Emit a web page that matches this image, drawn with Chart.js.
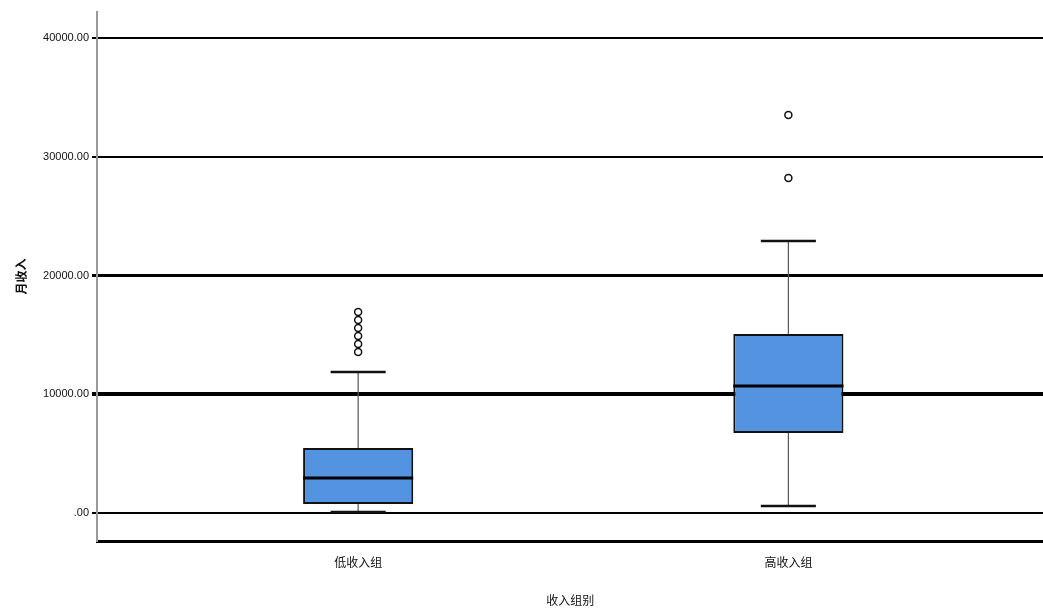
<!DOCTYPE html>
<html>
<head>
<meta charset="utf-8">
<script src="https://cdn.jsdelivr.net/npm/chart.js@4"></script>
<style>
  html, body { margin: 0; padding: 0; background: #fff; overflow: hidden; }
  #wrap { width: 1043px; height: 612px; position: relative; overflow: hidden; }
  canvas { display: block; }
</style>
</head>
<body>
<div id="wrap"><canvas id="c" width="1049" height="612"></canvas></div>
<script>
// ---- data ----
const categories = ['低收入组', '高收入组'];
const categoryPos = [1, 2];
const whiskerMin = [80, 590];
const q1 = [760, 6740];
const median = [2950, 10700];
const q3 = [5470, 15070];
const whiskerMax = [11870, 22900];
const outliersGroup1 = [13560, 14230, 14900, 15580, 16250, 16930];
const outliersGroup2 = [28210, 33520];
const yTicks = [0, 10000, 20000, 30000, 40000];
const xTitle = '收入组别';
const yTitle = '月收入';

const outlierPoints = [];
outliersGroup1.forEach(v => outlierPoints.push({x: categoryPos[0], y: v}));
outliersGroup2.forEach(v => outlierPoints.push({x: categoryPos[1], y: v}));

const gridWidths = {0: 2, 10000: 4, 20000: 3, 30000: 2, 40000: 2};

const boxPlugin = {
  id: 'boxExtras',
  afterDatasetsDraw(chart) {
    const ctx = chart.ctx;
    const xs = chart.scales.x, ys = chart.scales.y;
    const meta = chart.getDatasetMeta(0);
    ctx.save();
    categoryPos.forEach((p, i) => {
      const cx = xs.getPixelForValue(p);
      const bar = meta.data[i];
      const half = bar.width / 2;
      const capHalf = half / 2;
      ctx.strokeStyle = '#555';
      ctx.lineWidth = 1.2;
      ctx.beginPath();
      ctx.moveTo(cx, ys.getPixelForValue(q3[i]));
      ctx.lineTo(cx, ys.getPixelForValue(whiskerMax[i]));
      ctx.moveTo(cx, ys.getPixelForValue(q1[i]));
      ctx.lineTo(cx, ys.getPixelForValue(whiskerMin[i]));
      ctx.stroke();
      ctx.strokeStyle = '#111';
      ctx.lineWidth = 2.5;
      ctx.beginPath();
      const yt = ys.getPixelForValue(whiskerMax[i]);
      const yb = ys.getPixelForValue(whiskerMin[i]);
      ctx.moveTo(cx - capHalf, yt); ctx.lineTo(cx + capHalf, yt);
      ctx.moveTo(cx - capHalf, yb); ctx.lineTo(cx + capHalf, yb);
      ctx.stroke();
      ctx.strokeStyle = '#000';
      ctx.lineWidth = 3;
      const ym = ys.getPixelForValue(median[i]);
      ctx.beginPath();
      ctx.moveTo(cx - half, ym); ctx.lineTo(cx + half, ym);
      ctx.stroke();
    });
    ctx.restore();
  }
};

new Chart(document.getElementById('c'), {
  type: 'bar',
  data: {
    datasets: [
      {
        label: 'box',
        data: categoryPos.map((p, i) => ({x: p, y: [q1[i], q3[i]]})),
        backgroundColor: '#5393e0',
        borderColor: '#111',
        borderWidth: 2,
        borderSkipped: false,
        barPercentage: 0.256,
        categoryPercentage: 1,
        order: 2
      },
      {
        type: 'scatter',
        label: 'outliers',
        data: outlierPoints,
        pointStyle: 'circle',
        pointRadius: 3.5,
        pointBackgroundColor: '#fff',
        pointBorderColor: '#111',
        pointBorderWidth: 1.5,
        order: 1
      }
    ]
  },
  options: {
    responsive: false,
    animation: false,
    events: [],
    layout: { padding: { top: 12, left: 0, right: 0, bottom: 0 } },
    plugins: { legend: { display: false }, tooltip: { enabled: false } },
    scales: {
      x: {
        type: 'linear',
        min: 0.393,
        max: 2.593,
        offset: false,
        afterBuildTicks(scale) { scale.ticks = categoryPos.map(v => ({value: v})); },
        afterFit(scale) { scale.height = 71; scale.paddingLeft = 0; scale.paddingRight = 0; },
        grid: { display: false, drawTicks: false },
        border: { display: true, color: '#000', width: 3 },
        ticks: {
          padding: 14,
          color: '#111',
          font: { family: '"Noto Sans CJK SC", "Liberation Sans", sans-serif', size: 12 },
          callback: (v) => categories[categoryPos.indexOf(v)]
        },
        title: {
          display: true, text: xTitle, color: '#111',
          font: { family: '"Noto Sans CJK SC", "Liberation Sans", sans-serif', size: 12 },
          padding: { top: 4, bottom: 4 }
        }
      },
      y: {
        type: 'linear',
        min: -2358,
        max: 42189,
        afterBuildTicks(scale) { scale.ticks = yTicks.map(v => ({value: v})); },
        afterFit(scale) { scale.width = 97; },
        grid: {
          color: '#000',
          lineWidth: (ctx) => (ctx.tick ? (gridWidths[ctx.tick.value] || 2) : 2),
          tickLength: 5,
          drawTicks: true
        },
        border: { display: true, color: '#999', width: 2 },
        ticks: {
          padding: 3,
          color: '#111',
          font: { family: '"Liberation Sans", Arial, sans-serif', size: 11 },
          callback: (v) => (v === 0 ? '.00' : v.toFixed(2))
        },
        title: {
          display: true, text: yTitle, color: '#111',
          font: { family: '"Noto Sans CJK SC", "Liberation Sans", sans-serif', size: 12, weight: 'bold' },
          padding: { top: 14, bottom: 4 }
        }
      }
    }
  },
  plugins: [boxPlugin]
});
</script>
</body>
</html>
